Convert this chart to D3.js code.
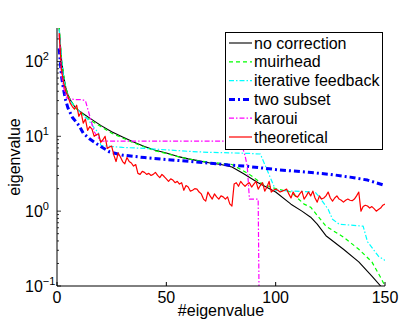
<!DOCTYPE html>
<html>
<head>
<meta charset="utf-8">
<script src="https://cdn.jsdelivr.net/npm/d3@7"></script>
<style>
  body { margin: 0; background: #fff; }
  svg { font-family: "Liberation Sans", Arial, Helvetica, sans-serif; }
</style>
</head>
<body>
<div id="chart"></div>
<script>
// series values as [index, eigenvalue] pairs
const noCorrection = [[1,280],[2,110],[3,65],[4,45],[5,36],[6,31],[8,25],[10,22],[12,20],[15,17.5],[20,14],[25,11.5],[30,9.8],[35,8.4],[40,7.3],[45,6.5],[50,6.0],[55,5.4],[60,5.0],[65,4.7],[70,4.4],[75,4.2],[80,3.9],[85,3.2],[92,2.4],[100,1.8],[107,1.24],[112,1.0],[116,0.83],[119,0.67],[123,0.47],[131,0.31],[138,0.21],[144,0.135],[148,0.1],[150,0.085]];
const muirhead = [[1,290],[2,115],[3,66],[4,45],[5,36],[6,31],[8,25],[10,21.5],[12,19.5],[15,16.5],[20,13.5],[25,11],[30,9.5],[35,8.2],[40,7.2],[45,6.4],[50,5.9],[55,5.4],[60,5.0],[65,4.7],[70,4.5],[75,4.35],[80,4.2],[88,3.1],[94,2.3],[100,2.0],[107,1.8],[113,1.24],[116,1.13],[123,0.63],[131,0.45],[138,0.31],[144,0.21],[148,0.13],[150,0.1]];
const iterative = [[1,270],[2,110],[3,62],[4,42],[5,34],[6,30],[8,25],[10,22],[12,19],[14,17],[17,13],[19,11],[20,7.6],[25,7.3],[30,7.1],[40,6.9],[50,6.6],[60,6.3],[70,6.1],[80,6.0],[88,5.9],[93,5.8],[100,1.9],[118,1.8],[120,1.54],[124,1.06],[126,0.78],[129,0.67],[140,0.63],[142,0.39],[147,0.25],[150,0.22]];
const twoSubset = [[1,150],[2,65],[3,42],[4,30],[5,24],[7,18],[10,14],[12,11],[15,9.2],[18,8.0],[20,7.3],[24,6.2],[30,5.6],[40,5.2],[50,4.9],[65,4.5],[80,4.1],[86,4.0],[100,3.6],[115,3.3],[125,3.1],[134,2.85],[142,2.6],[150,2.2]];
const karoui = [[1,230],[2,70],[3,45],[4,34],[5,32],[8,31],[11,31],[13,30],[15,18.5],[17,11.5],[20,8.6],[84,8.6],[86,5.5],[87,4.0],[88,1.45],[92,1.45],[93,0.001]];
const theoretical = [240,80,52,40,34,28,25,23,26,18.5,21,15,17,12,13.5,12.5,10,10.5,10.8,8.3,
  9,10,6.9,7.2,7.4,5.6,4.6,6.0,5.3,4.6,4.3,5.2,4.6,4.4,4.0,4.2,3.2,3.1,3.4,3.3,
  3.1,3.2,3.0,3.1,3.3,3.0,2.8,3.1,2.9,2.7,2.5,2.7,2.6,2.4,2.5,2.3,2.4,1.9,2.2,2.1,
  1.85,1.9,2.0,1.97,1.8,1.7,1.45,1.36,1.8,1.6,1.45,1.7,1.55,1.45,1.6,1.55,1.45,1.55,1.25,1.17,
  2.3,2.4,2.15,2.5,2.3,2.15,2.3,2.4,2.1,2.3,2.5,1.97,2.2,2.4,1.85,2.1,2.5,1.8,1.9,1.97,
  1.9,1.8,1.85,1.9,1.97,1.7,1.5,1.8,1.6,1.54,1.7,1.85,1.45,1.6,1.8,1.6,1.85,1.5,1.32,1.6,
  1.45,1.5,1.6,1.8,1.5,1.36,1.5,1.6,1.45,1.4,1.32,1.4,1.45,1.4,1.38,1.45,1.6,1.8,1.0,1.15,
  1.2,1.17,1.1,1.15,1.08,1.0,1.05,1.1,1.2,1.24];

const seriesNames = ["no correction", "muirhead", "iterative feedback", "two subset", "karoui", "theoretical"];
const xTicks = [0, 50, 100, 150];
const yTickExps = [-1, 0, 1, 2];

// container dimensions
const width = 399;
const height = 325;
const margins = { top: 28, right: 14, bottom: 39, left: 57 };
const innerWidth = width - margins.left - margins.right;
const innerHeight = height - margins.top - margins.bottom;

const styles = [
    { color: "#000000", width: 1.1, dash: null },
    { color: "#00ff00", width: 1.2, dash: "4,3" },
    { color: "#00ffff", width: 1.2, dash: "5,2,1.5,2" },
    { color: "#0000ff", width: 3, dash: "6,3,2,3" },
    { color: "#ff00ff", width: 1.2, dash: "5,2,1.5,2" },
    { color: "#ff0000", width: 1.2, dash: null }
];

const svg = d3.select("#chart").append("svg").attr("width", width).attr("height", height);

const x = d3.scaleLinear().domain([0, 150]).range([margins.left, margins.left + innerWidth]);
const y = d3.scaleLog().domain([0.1, 280]).range([margins.top + innerHeight, margins.top]);

svg.append("clipPath").attr("id", "plot-clip")
    .append("rect")
    .attr("x", margins.left).attr("y", margins.top)
    .attr("width", innerWidth).attr("height", innerHeight);

const allSeries = [
    noCorrection,
    muirhead,
    iterative,
    twoSubset,
    karoui,
    theoretical.map((v, i) => [i + 1, v])
];

const line = d3.line().x(d => x(d[0])).y(d => y(d[1]));

svg.append("g").attr("clip-path", "url(#plot-clip)")
    .selectAll("path")
    .data(allSeries)
    .join("path")
    .attr("d", line)
    .attr("fill", "none")
    .attr("stroke", (d, i) => styles[i].color)
    .attr("stroke-width", (d, i) => styles[i].width)
    .attr("stroke-dasharray", (d, i) => styles[i].dash)
    .attr("stroke-linejoin", "round");

// axes (MATLAB style, ticks inward)
const axisColor = "#000";
const y0 = margins.top + innerHeight;

const xAxis = svg.append("g").attr("transform", `translate(0,${y0})`);
xAxis.append("line").attr("x1", margins.left).attr("x2", margins.left + innerWidth).attr("stroke", axisColor);
xAxis.selectAll(".tick").data(xTicks).join("line")
    .attr("x1", d => x(d)).attr("x2", d => x(d)).attr("y1", 0).attr("y2", -4)
    .attr("stroke", axisColor);
xAxis.selectAll("text").data(xTicks).join("text")
    .attr("x", d => x(d)).attr("y", 17)
    .attr("text-anchor", "middle")
    .style("font-size", "16px")
    .text(d => d);

const yAxis = svg.append("g");
yAxis.append("line").attr("x1", margins.left).attr("x2", margins.left)
    .attr("y1", margins.top).attr("y2", y0).attr("stroke", axisColor);

const minorTicks = y.ticks().filter(v => v >= 0.1 && v <= 280);
yAxis.selectAll(".minor").data(minorTicks).join("line")
    .attr("x1", margins.left).attr("x2", d => margins.left + (yTickExps.includes(Math.round(Math.log10(d) * 1000) / 1000) ? 4 : 2))
    .attr("y1", d => y(d)).attr("y2", d => y(d))
    .attr("stroke", axisColor).attr("stroke-width", 0.8);

const yLabels = yAxis.selectAll(".ylab").data(yTickExps).join("text")
    .attr("y", d => y(Math.pow(10, d)) + 6)
    .style("font-size", "16px");
yLabels.append("tspan").attr("x", 25).text("10");
yLabels.append("tspan").attr("dy", -7).style("font-size", "11px")
    .text(d => d < 0 ? "\u2212" + Math.abs(d) : d);

svg.append("text")
    .attr("x", margins.left + innerWidth / 2)
    .attr("y", 316)
    .attr("text-anchor", "middle")
    .style("font-size", "16px")
    .text("#eigenvalue");

svg.append("text")
    .attr("transform", `translate(20,${margins.top + innerHeight / 2}) rotate(-90)`)
    .attr("text-anchor", "middle")
    .style("font-size", "16px")
    .text("eigenvalue");

// legend
const legend = svg.append("g").attr("class", "legend");
legend.append("rect")
    .attr("x", 225.5).attr("y", 32.5).attr("width", 157).attr("height", 117)
    .attr("fill", "#fff").attr("stroke", "#000");

const legendItem = legend.selectAll(".legend-item")
    .data(seriesNames)
    .join("g")
    .attr("transform", (_, i) => `translate(0, ${43 + i * 18.8})`);

legendItem.append("line")
    .attr("x1", 229).attr("x2", 252)
    .attr("stroke", (d, i) => styles[i].color)
    .attr("stroke-width", (d, i) => styles[i].width)
    .attr("stroke-dasharray", (d, i) => styles[i].dash);

legendItem.append("text")
    .attr("x", 254).attr("y", 5.5)
    .style("font-size", "16px")
    .text(d => d);
</script>
</body>
</html>
